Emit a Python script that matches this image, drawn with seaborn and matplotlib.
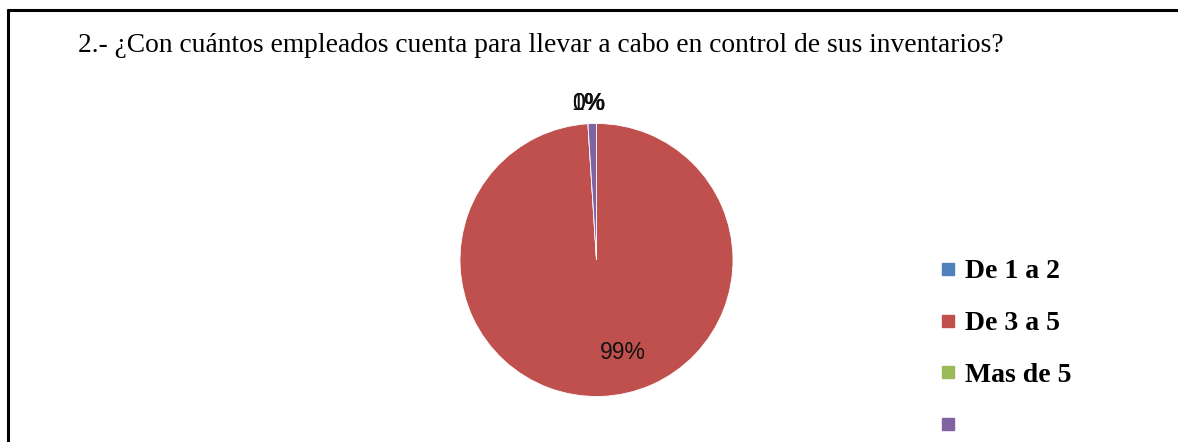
import numpy as np
import matplotlib
matplotlib.use("Agg")
import matplotlib.pyplot as plt
from matplotlib.lines import Line2D
import seaborn as sns

# Survey answers: employees in charge of inventory control
categories = ["De 1 a 2", "De 3 a 5", "Mas de 5", ""]
values = [0, 99, 0, 1]
title = "2.- ¿Con cuántos empleados cuenta para llevar a cabo en control de sus inventarios?"

sns.set_theme(style="white")
plt.rcParams["font.family"] = ["Liberation Serif", "DejaVu Serif"]
plt.rcParams["text.color"] = "black"

colors = sns.color_palette(["#4F81BD", "#C0504D", "#9BBB59", "#8064A2"])

W, H = 1178, 442
fig = plt.figure(figsize=(W / 100, H / 100), dpi=100)
fig.patch.set_facecolor("white")

# Pie axes: center (596, 260) px, radius 136.5 px, limits +-1.25
cx, cy, r = 596.5, 260, 136.5
half = r * 1.25
ax = fig.add_axes([(cx - half) / W, (H - cy - half) / H, 2 * half / W, 2 * half / H])
wedges, _ = ax.pie(values, colors=colors, startangle=90, counterclock=False,
                   radius=1, wedgeprops=dict(linewidth=0.6, edgecolor="white"))
ax.set_xlim(-1.25, 1.25)
ax.set_ylim(-1.25, 1.25)
ax.set_aspect("equal")
ax.axis("off")

total = sum(values)
for w, v in zip(wedges, values):
    pct = 100 * v / total
    mid = np.deg2rad((w.theta1 + w.theta2) / 2)
    if pct >= 5:
        x, y = 0.68 * np.cos(mid) + 0.17, 0.68 * np.sin(mid)
    else:
        # small slices share one spot just above the top of the pie
        x, y = -0.06, 1.15
    ax.text(x, y, f"{pct:.0f}%", ha="center", va="center",
            fontsize=16.5, family=["Liberation Sans", "DejaVu Sans"], color="#111111")

fig.text(78 / W, 1 - 45 / H, title, ha="left", va="center", fontsize=19.8, color="black")

handles = [Line2D([0], [0], marker="s", linestyle="none", markersize=9,
                  markerfacecolor=c, markeredgecolor=c) for c in colors]
leg = fig.legend(handles, categories, loc="upper left",
                 bbox_to_anchor=(940 / W, 1 - 259 / H), frameon=False,
                 prop=dict(family="Liberation Serif", weight="bold", size=20),
                 handlelength=0.6, handletextpad=0.3, labelspacing=0.95,
                 borderaxespad=0, borderpad=0, labelcolor="black")

# Partial frame: top and left edges
fig.add_artist(Line2D([8 / W, 1], [1 - 10 / H, 1 - 10 / H], color="black", lw=2.2,
                      transform=fig.transFigure))
fig.add_artist(Line2D([8 / W, 8 / W], [0, 1 - 10 / H], color="black", lw=2.2,
                      transform=fig.transFigure))

fig.savefig("out.png", dpi=100, facecolor="white")
